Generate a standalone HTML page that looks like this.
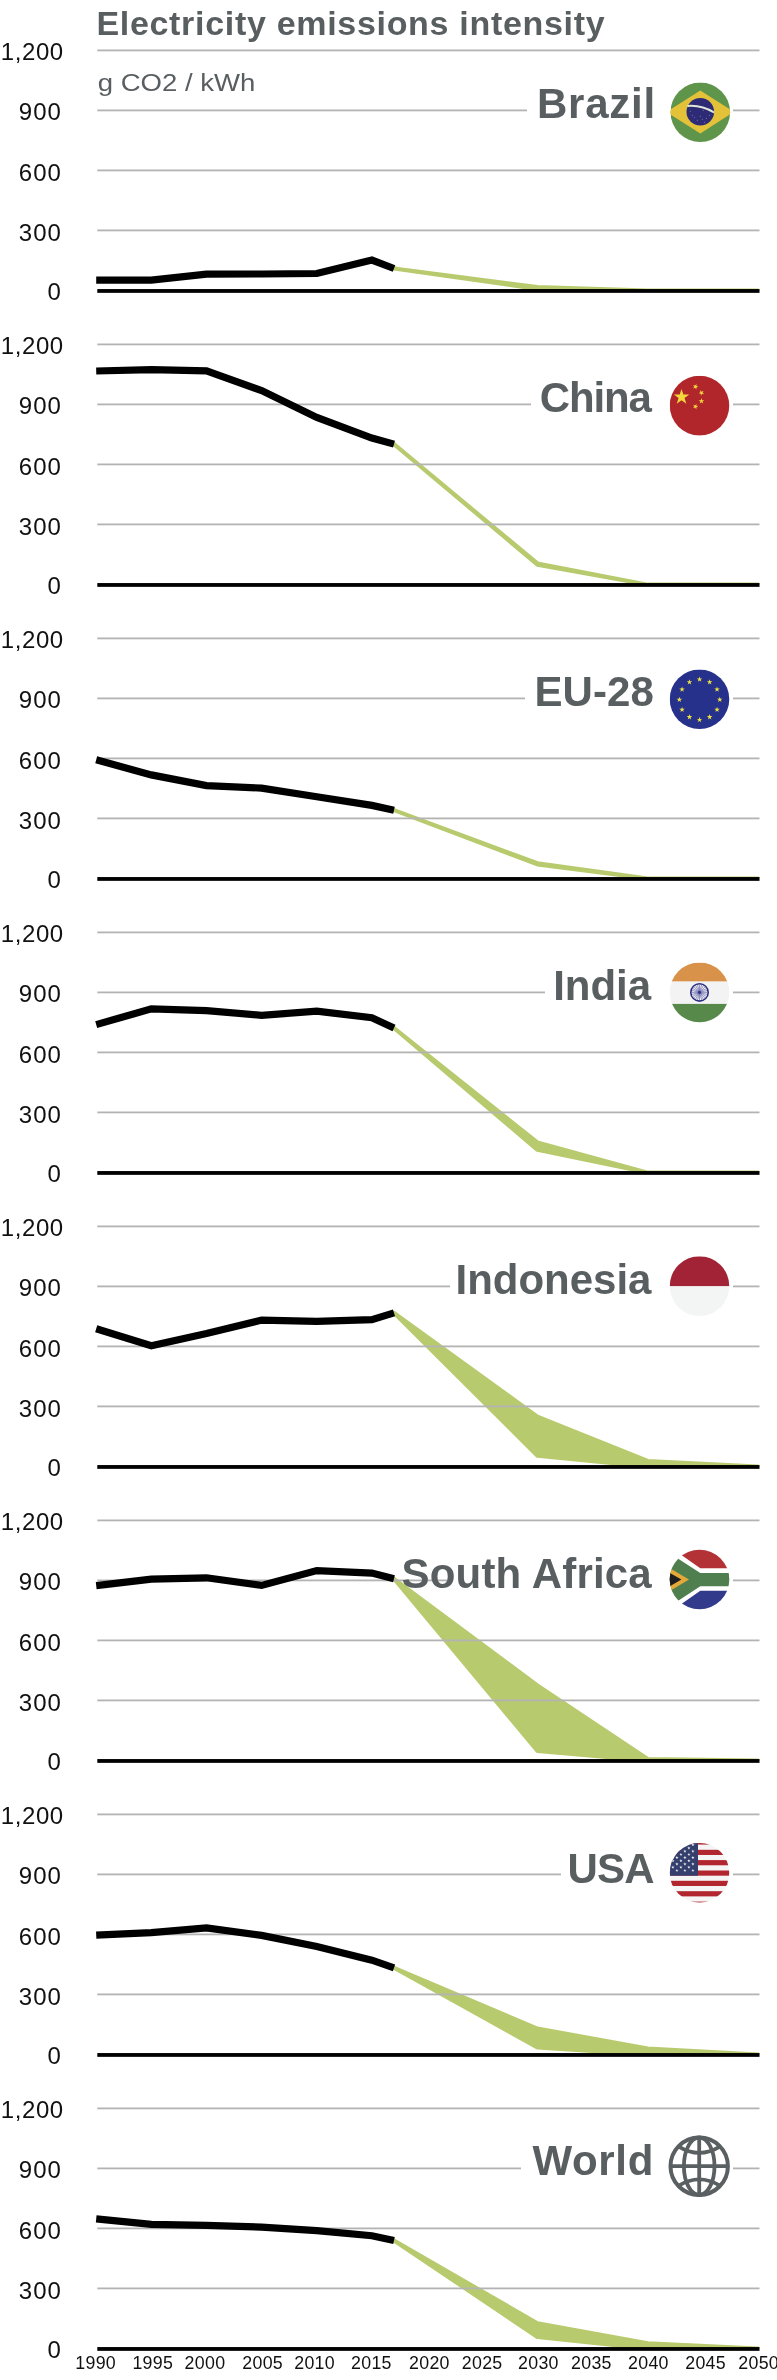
<!DOCTYPE html>
<html><head><meta charset="utf-8"><style>
html,body{margin:0;padding:0;background:#fff;}
svg{display:block;font-family:"Liberation Sans",sans-serif;will-change:transform;}
</style></head><body>
<svg width="777" height="2380" viewBox="0 0 777 2380">
<rect width="777" height="2380" fill="#fff"/>
<text x="96.4" y="34.5" font-size="34" font-weight="bold" fill="#595e61" letter-spacing="0.69">Electricity emissions intensity</text>
<text x="97.8" y="91.3" font-size="24.5" fill="#595e61" transform="translate(98.8,0) scale(1.125,1) translate(-98.8,0)">g CO2 / kWh</text>
<g transform="translate(0,0)">
<clipPath id="gc0"><rect x="0" y="0" width="759.5" height="291"/></clipPath>
<polygon clip-path="url(#gc0)" points="394,268.5 537.4,287 647.7,290.6 758,290.6 758,290.6 647.7,290.6 537.4,289" fill="#b8ca6e" stroke="#b8ca6e" stroke-width="4" stroke-linejoin="round"/>
<rect x="97.3" y="49.5" width="662.2" height="1.8" fill="#b3b3b3"/>
<rect x="97.3" y="109.5" width="429.7" height="1.8" fill="#b3b3b3"/>
<rect x="733" y="109.5" width="26.5" height="1.8" fill="#b3b3b3"/>
<rect x="97.3" y="169.5" width="662.2" height="1.8" fill="#b3b3b3"/>
<rect x="97.3" y="229.5" width="662.2" height="1.8" fill="#b3b3b3"/>
<polyline points="96.2,280.2 151.3,280.2 206.5,274.1 261.6,274 316.8,273.5 371.9,260.1 394,268.5" fill="none" stroke="#000" stroke-width="7.2" stroke-linejoin="miter" stroke-miterlimit="4"/>
<rect x="97.3" y="289.05" width="662.2" height="3.8" fill="#000"/>
<text x="0.8" y="59.8" font-size="24" fill="#111" letter-spacing="0.58">1,200</text>
<text x="18.8" y="120.1" font-size="24" fill="#111" letter-spacing="1.05">900</text>
<text x="18.8" y="180.6" font-size="24" fill="#111" letter-spacing="1.05">600</text>
<text x="18.8" y="240.8" font-size="24" fill="#111" letter-spacing="1.05">300</text>
<text x="47.6" y="300.3" font-size="24" fill="#111" letter-spacing="0">0</text>
<text x="537" y="117.8" font-size="42" font-weight="bold" fill="#595e61" letter-spacing="0.74">Brazil</text>
<clipPath id="c0"><circle cx="700.3" cy="112.2" r="29.8"/></clipPath><g clip-path="url(#c0)"><rect x="670.5" y="82.4" width="60" height="60" fill="#5f944b"/><polygon points="666.5,111.9 700.3,90.4 734.1,111.9 700.3,133.4" fill="#e3c23a"/><circle cx="700.3" cy="111.8" r="13.8" fill="#2e2b76"/><path d="M687.3 106 Q701.3 104.7 714.1 112.5" stroke="#dfe8d8" stroke-width="2" fill="none"/><circle cx="692.3" cy="115.2" r="0.5" fill="#8a88b8"/><circle cx="694.3" cy="117.2" r="0.5" fill="#8a88b8"/><circle cx="700.3" cy="116.2" r="0.5" fill="#8a88b8"/><circle cx="702.3" cy="119.2" r="0.5" fill="#8a88b8"/><circle cx="697.3" cy="120.2" r="0.5" fill="#8a88b8"/><circle cx="706.3" cy="118.2" r="0.5" fill="#8a88b8"/><circle cx="709.3" cy="115.2" r="0.5" fill="#8a88b8"/><circle cx="704.3" cy="122.2" r="0.5" fill="#8a88b8"/><circle cx="690.3" cy="111.2" r="0.5" fill="#8a88b8"/><circle cx="703.3" cy="110.2" r="0.5" fill="#8a88b8"/></g>
</g>
<g transform="translate(0,294)">
<clipPath id="gc1"><rect x="0" y="0" width="759.5" height="291"/></clipPath>
<polygon clip-path="url(#gc1)" points="394,150.1 537.4,269.4 647.7,290.6 758,290.6 758,290.6 647.7,290.6 537.4,270.8" fill="#b8ca6e" stroke="#b8ca6e" stroke-width="4" stroke-linejoin="round"/>
<rect x="97.3" y="49.5" width="662.2" height="1.8" fill="#b3b3b3"/>
<rect x="97.3" y="109.5" width="433.7" height="1.8" fill="#b3b3b3"/>
<rect x="733" y="109.5" width="26.5" height="1.8" fill="#b3b3b3"/>
<rect x="97.3" y="169.5" width="662.2" height="1.8" fill="#b3b3b3"/>
<rect x="97.3" y="229.5" width="662.2" height="1.8" fill="#b3b3b3"/>
<polyline points="96.2,77 151.3,75.7 206.5,76.8 261.6,96.6 316.8,123.4 371.9,144 394,150.1" fill="none" stroke="#000" stroke-width="7.2" stroke-linejoin="miter" stroke-miterlimit="4"/>
<rect x="97.3" y="289.05" width="662.2" height="3.8" fill="#000"/>
<text x="0.8" y="59.8" font-size="24" fill="#111" letter-spacing="0.58">1,200</text>
<text x="18.8" y="120.1" font-size="24" fill="#111" letter-spacing="1.05">900</text>
<text x="18.8" y="180.6" font-size="24" fill="#111" letter-spacing="1.05">600</text>
<text x="18.8" y="240.8" font-size="24" fill="#111" letter-spacing="1.05">300</text>
<text x="47.6" y="300.3" font-size="24" fill="#111" letter-spacing="0">0</text>
<text x="539.8" y="117.9" font-size="42" font-weight="bold" fill="#595e61" letter-spacing="-1.18">China</text>
<clipPath id="c1"><circle cx="699.5" cy="111.6" r="29.8"/></clipPath><g clip-path="url(#c1)"><rect x="669.8" y="81.8" width="60" height="60" fill="#b1262b"/><polygon points="681.5,94.9 683.4,100.6 689.3,100.6 684.5,104.1 686.4,109.7 681.5,106.2 676.7,109.7 678.6,104.1 673.8,100.6 679.7,100.6" fill="#f2d83a"/><polygon points="696.5,89.9 696.4,92.1 698.4,92.8 696.4,93.4 696.3,95.6 695.1,93.8 693,94.4 694.3,92.7 693.1,90.9 695.1,91.6" fill="#f2d83a"/><polygon points="703.6,96.7 702.6,98.6 704.1,100.2 702,99.8 701,101.8 700.6,99.6 698.5,99.3 700.4,98.3 700.1,96.1 701.6,97.7" fill="#f2d83a"/><polygon points="701.4,104.1 702.1,106.2 704.3,106.2 702.5,107.5 703.2,109.5 701.4,108.2 699.7,109.5 700.4,107.5 698.6,106.2 700.8,106.2" fill="#f2d83a"/><polygon points="696.5,109.7 696.4,111.9 698.4,112.6 696.4,113.2 696.3,115.4 695.1,113.6 693,114.2 694.3,112.5 693.1,110.7 695.1,111.4" fill="#f2d83a"/></g>
</g>
<g transform="translate(0,588)">
<clipPath id="gc2"><rect x="0" y="0" width="759.5" height="291"/></clipPath>
<polygon clip-path="url(#gc2)" points="394,222.2 537.4,275.2 647.7,290.6 758,290.6 758,290.6 647.7,290.6 537.4,276.4" fill="#b8ca6e" stroke="#b8ca6e" stroke-width="4" stroke-linejoin="round"/>
<rect x="97.3" y="49.5" width="662.2" height="1.8" fill="#b3b3b3"/>
<rect x="97.3" y="109.5" width="427.7" height="1.8" fill="#b3b3b3"/>
<rect x="733" y="109.5" width="26.5" height="1.8" fill="#b3b3b3"/>
<rect x="97.3" y="169.5" width="662.2" height="1.8" fill="#b3b3b3"/>
<rect x="97.3" y="229.5" width="662.2" height="1.8" fill="#b3b3b3"/>
<polyline points="96.2,171.8 151.3,186.9 206.5,197.6 261.6,200.1 316.8,208.8 371.9,217.4 394,222.2" fill="none" stroke="#000" stroke-width="7.2" stroke-linejoin="miter" stroke-miterlimit="4"/>
<rect x="97.3" y="289.05" width="662.2" height="3.8" fill="#000"/>
<text x="0.8" y="59.8" font-size="24" fill="#111" letter-spacing="0.58">1,200</text>
<text x="18.8" y="120.1" font-size="24" fill="#111" letter-spacing="1.05">900</text>
<text x="18.8" y="180.6" font-size="24" fill="#111" letter-spacing="1.05">600</text>
<text x="18.8" y="240.8" font-size="24" fill="#111" letter-spacing="1.05">300</text>
<text x="47.6" y="300.3" font-size="24" fill="#111" letter-spacing="0">0</text>
<text x="534.5" y="118.2" font-size="42" font-weight="bold" fill="#595e61" letter-spacing="0.08">EU-28</text>
<clipPath id="c2"><circle cx="699.5" cy="111.2" r="29.8"/></clipPath><g clip-path="url(#c2)"><rect x="669.8" y="81.4" width="60" height="60" fill="#26318c"/><polygon points="699.5,88.5 700.2,90.5 702.3,90.5 700.6,91.7 701.3,93.7 699.5,92.5 697.8,93.7 698.5,91.7 696.8,90.5 698.9,90.5" fill="#f1e343"/><polygon points="709.6,91.2 710.3,93.2 712.4,93.2 710.7,94.4 711.4,96.4 709.6,95.2 707.9,96.4 708.6,94.4 706.9,93.2 709,93.2" fill="#f1e343"/><polygon points="717,98.6 717.7,100.6 719.8,100.6 718.1,101.8 718.7,103.8 717,102.6 715.3,103.8 716,101.8 714.3,100.6 716.4,100.6" fill="#f1e343"/><polygon points="719.8,108.7 720.4,110.7 722.5,110.7 720.8,111.9 721.5,113.9 719.8,112.7 718,113.9 718.7,111.9 717,110.7 719.1,110.7" fill="#f1e343"/><polygon points="717,118.8 717.7,120.8 719.8,120.8 718.1,122 718.7,124 717,122.8 715.3,124 716,122 714.3,120.8 716.4,120.8" fill="#f1e343"/><polygon points="709.6,126.1 710.3,128.1 712.4,128.1 710.7,129.4 711.4,131.4 709.6,130.2 707.9,131.4 708.6,129.4 706.9,128.1 709,128.1" fill="#f1e343"/><polygon points="699.5,128.8 700.2,130.9 702.3,130.9 700.6,132.1 701.3,134.1 699.5,132.9 697.8,134.1 698.5,132.1 696.8,130.9 698.9,130.9" fill="#f1e343"/><polygon points="689.4,126.1 690.1,128.1 692.2,128.1 690.5,129.4 691.2,131.4 689.4,130.2 687.7,131.4 688.4,129.4 686.7,128.1 688.8,128.1" fill="#f1e343"/><polygon points="682.1,118.8 682.7,120.8 684.8,120.8 683.1,122 683.8,124 682.1,122.8 680.4,124 681,122 679.3,120.8 681.4,120.8" fill="#f1e343"/><polygon points="679.3,108.7 680,110.7 682.1,110.7 680.4,111.9 681.1,113.9 679.3,112.7 677.6,113.9 678.3,111.9 676.6,110.7 678.7,110.7" fill="#f1e343"/><polygon points="682.1,98.6 682.7,100.6 684.8,100.6 683.1,101.8 683.8,103.8 682.1,102.6 680.4,103.8 681,101.8 679.3,100.6 681.4,100.6" fill="#f1e343"/><polygon points="689.4,91.2 690.1,93.2 692.2,93.2 690.5,94.4 691.2,96.4 689.4,95.2 687.7,96.4 688.4,94.4 686.7,93.2 688.8,93.2" fill="#f1e343"/></g>
</g>
<g transform="translate(0,882)">
<clipPath id="gc3"><rect x="0" y="0" width="759.5" height="291"/></clipPath>
<polygon clip-path="url(#gc3)" points="394,146.1 537.4,260.4 647.7,290.6 758,290.6 758,290.6 647.7,290.6 537.4,267.9" fill="#b8ca6e" stroke="#b8ca6e" stroke-width="4" stroke-linejoin="round"/>
<rect x="97.3" y="49.5" width="662.2" height="1.8" fill="#b3b3b3"/>
<rect x="97.3" y="109.5" width="447.7" height="1.8" fill="#b3b3b3"/>
<rect x="733" y="109.5" width="26.5" height="1.8" fill="#b3b3b3"/>
<rect x="97.3" y="169.5" width="662.2" height="1.8" fill="#b3b3b3"/>
<rect x="97.3" y="229.5" width="662.2" height="1.8" fill="#b3b3b3"/>
<polyline points="96.2,142.6 151.3,126.9 206.5,128.6 261.6,133.3 316.8,129.2 371.9,135.8 394,146.1" fill="none" stroke="#000" stroke-width="7.2" stroke-linejoin="miter" stroke-miterlimit="4"/>
<rect x="97.3" y="289.05" width="662.2" height="3.8" fill="#000"/>
<text x="0.8" y="59.8" font-size="24" fill="#111" letter-spacing="0.58">1,200</text>
<text x="18.8" y="120.1" font-size="24" fill="#111" letter-spacing="1.05">900</text>
<text x="18.8" y="180.6" font-size="24" fill="#111" letter-spacing="1.05">600</text>
<text x="18.8" y="240.8" font-size="24" fill="#111" letter-spacing="1.05">300</text>
<text x="47.6" y="300.3" font-size="24" fill="#111" letter-spacing="0">0</text>
<text x="553.2" y="117.6" font-size="42" font-weight="bold" fill="#595e61" letter-spacing="-0.03">India</text>
<clipPath id="c3"><circle cx="699.5" cy="110.4" r="29.8"/></clipPath><g clip-path="url(#c3)"><rect x="669.8" y="80.6" width="60" height="19" fill="#d9924a"/><rect x="669.8" y="99.6" width="60" height="22.3" fill="#f4f3f4"/><rect x="669.8" y="121.9" width="60" height="20" fill="#56894a"/><circle cx="699.5" cy="110.4" r="8.7" fill="none" stroke="#2b2f80" stroke-width="1.6"/><line x1="699.5" y1="110.4" x2="707.3" y2="110.4" stroke="#5558a2" stroke-width="0.6"/><line x1="699.5" y1="110.4" x2="707.1" y2="112.4" stroke="#5558a2" stroke-width="0.6"/><line x1="699.5" y1="110.4" x2="706.3" y2="114.3" stroke="#5558a2" stroke-width="0.6"/><line x1="699.5" y1="110.4" x2="705.1" y2="115.9" stroke="#5558a2" stroke-width="0.6"/><line x1="699.5" y1="110.4" x2="703.4" y2="117.2" stroke="#5558a2" stroke-width="0.6"/><line x1="699.5" y1="110.4" x2="701.6" y2="117.9" stroke="#5558a2" stroke-width="0.6"/><line x1="699.5" y1="110.4" x2="699.5" y2="118.2" stroke="#5558a2" stroke-width="0.6"/><line x1="699.5" y1="110.4" x2="697.5" y2="117.9" stroke="#5558a2" stroke-width="0.6"/><line x1="699.5" y1="110.4" x2="695.6" y2="117.2" stroke="#5558a2" stroke-width="0.6"/><line x1="699.5" y1="110.4" x2="694" y2="115.9" stroke="#5558a2" stroke-width="0.6"/><line x1="699.5" y1="110.4" x2="692.8" y2="114.3" stroke="#5558a2" stroke-width="0.6"/><line x1="699.5" y1="110.4" x2="692" y2="112.4" stroke="#5558a2" stroke-width="0.6"/><line x1="699.5" y1="110.4" x2="691.8" y2="110.4" stroke="#5558a2" stroke-width="0.6"/><line x1="699.5" y1="110.4" x2="692" y2="108.4" stroke="#5558a2" stroke-width="0.6"/><line x1="699.5" y1="110.4" x2="692.8" y2="106.5" stroke="#5558a2" stroke-width="0.6"/><line x1="699.5" y1="110.4" x2="694" y2="104.9" stroke="#5558a2" stroke-width="0.6"/><line x1="699.5" y1="110.4" x2="695.6" y2="103.6" stroke="#5558a2" stroke-width="0.6"/><line x1="699.5" y1="110.4" x2="697.5" y2="102.9" stroke="#5558a2" stroke-width="0.6"/><line x1="699.5" y1="110.4" x2="699.5" y2="102.6" stroke="#5558a2" stroke-width="0.6"/><line x1="699.5" y1="110.4" x2="701.6" y2="102.9" stroke="#5558a2" stroke-width="0.6"/><line x1="699.5" y1="110.4" x2="703.4" y2="103.6" stroke="#5558a2" stroke-width="0.6"/><line x1="699.5" y1="110.4" x2="705.1" y2="104.9" stroke="#5558a2" stroke-width="0.6"/><line x1="699.5" y1="110.4" x2="706.3" y2="106.5" stroke="#5558a2" stroke-width="0.6"/><line x1="699.5" y1="110.4" x2="707.1" y2="108.4" stroke="#5558a2" stroke-width="0.6"/><circle cx="699.5" cy="110.4" r="1.3" fill="#2b2f80"/></g>
</g>
<g transform="translate(0,1176)">
<clipPath id="gc4"><rect x="0" y="0" width="759.5" height="291"/></clipPath>
<polygon clip-path="url(#gc4)" points="394,136.9 537.4,240.6 647.7,284.9 758,290.6 758,290.6 647.7,290.6 537.4,279.8" fill="#b8ca6e" stroke="#b8ca6e" stroke-width="4" stroke-linejoin="round"/>
<rect x="97.3" y="49.5" width="662.2" height="1.8" fill="#b3b3b3"/>
<rect x="97.3" y="109.5" width="352.7" height="1.8" fill="#b3b3b3"/>
<rect x="733" y="109.5" width="26.5" height="1.8" fill="#b3b3b3"/>
<rect x="97.3" y="169.5" width="662.2" height="1.8" fill="#b3b3b3"/>
<rect x="97.3" y="229.5" width="662.2" height="1.8" fill="#b3b3b3"/>
<polyline points="96.2,152.8 151.3,169.7 206.5,157.6 261.6,144.1 316.8,145.4 371.9,143.7 394,136.9" fill="none" stroke="#000" stroke-width="7.2" stroke-linejoin="miter" stroke-miterlimit="4"/>
<rect x="97.3" y="289.05" width="662.2" height="3.8" fill="#000"/>
<text x="0.8" y="59.8" font-size="24" fill="#111" letter-spacing="0.58">1,200</text>
<text x="18.8" y="120.1" font-size="24" fill="#111" letter-spacing="1.05">900</text>
<text x="18.8" y="180.6" font-size="24" fill="#111" letter-spacing="1.05">600</text>
<text x="18.8" y="240.8" font-size="24" fill="#111" letter-spacing="1.05">300</text>
<text x="47.6" y="300.3" font-size="24" fill="#111" letter-spacing="0">0</text>
<text x="455.5" y="117.5" font-size="42" font-weight="bold" fill="#595e61" letter-spacing="-0.01">Indonesia</text>
<clipPath id="c4"><circle cx="699.5" cy="110.1" r="29.8"/></clipPath><g clip-path="url(#c4)"><rect x="669.7" y="80.3" width="60" height="30" fill="#a12335"/><rect x="669.7" y="110.3" width="60" height="30" fill="#f3f4f4"/></g>
</g>
<g transform="translate(0,1470)">
<clipPath id="gc5"><rect x="0" y="0" width="759.5" height="291"/></clipPath>
<polygon clip-path="url(#gc5)" points="394,108.8 537.4,215.3 647.7,289 758,290.6 758,290.6 647.7,290.6 537.4,281" fill="#b8ca6e" stroke="#b8ca6e" stroke-width="4" stroke-linejoin="round"/>
<rect x="97.3" y="49.5" width="662.2" height="1.8" fill="#b3b3b3"/>
<rect x="97.3" y="109.5" width="352.7" height="1.8" fill="#b3b3b3"/>
<rect x="733" y="109.5" width="26.5" height="1.8" fill="#b3b3b3"/>
<rect x="97.3" y="169.5" width="662.2" height="1.8" fill="#b3b3b3"/>
<rect x="97.3" y="229.5" width="662.2" height="1.8" fill="#b3b3b3"/>
<polyline points="96.2,115.6 151.3,109.2 206.5,107.8 261.6,115.4 316.8,100.6 371.9,103.1 394,108.8" fill="none" stroke="#000" stroke-width="7.2" stroke-linejoin="miter" stroke-miterlimit="4"/>
<rect x="97.3" y="289.05" width="662.2" height="3.8" fill="#000"/>
<text x="0.8" y="59.8" font-size="24" fill="#111" letter-spacing="0.58">1,200</text>
<text x="18.8" y="120.1" font-size="24" fill="#111" letter-spacing="1.05">900</text>
<text x="18.8" y="180.6" font-size="24" fill="#111" letter-spacing="1.05">600</text>
<text x="18.8" y="240.8" font-size="24" fill="#111" letter-spacing="1.05">300</text>
<text x="47.6" y="300.3" font-size="24" fill="#111" letter-spacing="0">0</text>
<text x="401.6" y="118.1" font-size="42" font-weight="bold" fill="#595e61" letter-spacing="0.18">South Africa</text>
<clipPath id="c5"><circle cx="699.5" cy="109.5" r="29.8"/></clipPath><g clip-path="url(#c5)"><rect x="669.7" y="79.7" width="60" height="60" fill="#fff"/><polygon points="664.7,74.7 734.7,74.7 734.7,98.3 700.3,98.3 681.4,85.1 674.7,80.5" fill="#b23236"/><polygon points="664.7,144.7 734.7,144.7 734.7,120.8 700.3,120.8 681.4,133.9 674.7,138.7" fill="#323a8c"/><polygon points="664.7,83 678.2,88.7 700.3,103.1 734.7,103.1 734.7,116.3 700.3,116.3 678.2,130.7 664.7,136.4" fill="#4f7f4f"/><polygon points="664.7,95.2 689,109.6 664.7,124" fill="#e5a93a"/><polygon points="664.7,100 681.4,109.6 664.7,119.2" fill="#1e1e1e"/></g>
</g>
<g transform="translate(0,1764)">
<clipPath id="gc6"><rect x="0" y="0" width="759.5" height="291"/></clipPath>
<polygon clip-path="url(#gc6)" points="394,203.8 537.4,264.5 647.7,284.4 758,290.6 758,290.6 647.7,290.6 537.4,283.5" fill="#b8ca6e" stroke="#b8ca6e" stroke-width="4" stroke-linejoin="round"/>
<rect x="97.3" y="49.5" width="662.2" height="1.8" fill="#b3b3b3"/>
<rect x="97.3" y="109.5" width="463.7" height="1.8" fill="#b3b3b3"/>
<rect x="733" y="109.5" width="26.5" height="1.8" fill="#b3b3b3"/>
<rect x="97.3" y="169.5" width="662.2" height="1.8" fill="#b3b3b3"/>
<rect x="97.3" y="229.5" width="662.2" height="1.8" fill="#b3b3b3"/>
<polyline points="96.2,171.1 151.3,168.7 206.5,163.9 261.6,171.4 316.8,182.4 371.9,196.2 394,203.8" fill="none" stroke="#000" stroke-width="7.2" stroke-linejoin="miter" stroke-miterlimit="4"/>
<rect x="97.3" y="289.05" width="662.2" height="3.8" fill="#000"/>
<text x="0.8" y="59.8" font-size="24" fill="#111" letter-spacing="0.58">1,200</text>
<text x="18.8" y="120.1" font-size="24" fill="#111" letter-spacing="1.05">900</text>
<text x="18.8" y="180.6" font-size="24" fill="#111" letter-spacing="1.05">600</text>
<text x="18.8" y="240.8" font-size="24" fill="#111" letter-spacing="1.05">300</text>
<text x="47.6" y="300.3" font-size="24" fill="#111" letter-spacing="0">0</text>
<text x="567.6" y="118.5" font-size="42" font-weight="bold" fill="#595e61" letter-spacing="-0.9">USA</text>
<clipPath id="c6"><circle cx="699.5" cy="108.8" r="29.8"/></clipPath><g clip-path="url(#c6)"><rect x="669.7" y="79" width="60" height="60" fill="#f5f5f5"/><rect x="669.7" y="75.4" width="60" height="5.18" fill="#b1262f"/><rect x="669.7" y="85.8" width="60" height="5.18" fill="#b1262f"/><rect x="669.7" y="96.1" width="60" height="5.18" fill="#b1262f"/><rect x="669.7" y="106.5" width="60" height="5.18" fill="#b1262f"/><rect x="669.7" y="116.8" width="60" height="5.18" fill="#b1262f"/><rect x="669.7" y="127.2" width="60" height="5.18" fill="#b1262f"/><rect x="669.7" y="137.6" width="60" height="5.18" fill="#b1262f"/><rect x="669.7" y="75.4" width="28.3" height="36.3" fill="#343f6d"/><polygon points="692.9,79 693.3,80.3 694.6,80.3 693.5,81 693.9,82.2 692.9,81.5 691.9,82.2 692.3,81 691.2,80.3 692.5,80.3" fill="#f4f4f4"/><polygon points="684.9,79 685.3,80.3 686.6,80.3 685.5,81 685.9,82.2 684.9,81.5 683.9,82.2 684.3,81 683.2,80.3 684.5,80.3" fill="#f4f4f4"/><polygon points="676.9,79 677.3,80.3 678.6,80.3 677.5,81 677.9,82.2 676.9,81.5 675.9,82.2 676.3,81 675.2,80.3 676.5,80.3" fill="#f4f4f4"/><polygon points="668.9,79 669.3,80.3 670.6,80.3 669.5,81 669.9,82.2 668.9,81.5 667.9,82.2 668.3,81 667.2,80.3 668.5,80.3" fill="#f4f4f4"/><polygon points="688.9,82.2 689.3,83.5 690.6,83.5 689.5,84.2 689.9,85.4 688.9,84.7 687.9,85.4 688.3,84.2 687.2,83.5 688.5,83.5" fill="#f4f4f4"/><polygon points="680.9,82.2 681.3,83.5 682.6,83.5 681.5,84.2 681.9,85.4 680.9,84.7 679.9,85.4 680.3,84.2 679.2,83.5 680.5,83.5" fill="#f4f4f4"/><polygon points="672.9,82.2 673.3,83.5 674.6,83.5 673.5,84.2 673.9,85.4 672.9,84.7 671.9,85.4 672.3,84.2 671.2,83.5 672.5,83.5" fill="#f4f4f4"/><polygon points="692.9,85.5 693.3,86.7 694.6,86.7 693.5,87.4 693.9,88.6 692.9,87.9 691.9,88.6 692.3,87.4 691.2,86.7 692.5,86.7" fill="#f4f4f4"/><polygon points="684.9,85.5 685.3,86.7 686.6,86.7 685.5,87.4 685.9,88.6 684.9,87.9 683.9,88.6 684.3,87.4 683.2,86.7 684.5,86.7" fill="#f4f4f4"/><polygon points="676.9,85.5 677.3,86.7 678.6,86.7 677.5,87.4 677.9,88.6 676.9,87.9 675.9,88.6 676.3,87.4 675.2,86.7 676.5,86.7" fill="#f4f4f4"/><polygon points="668.9,85.5 669.3,86.7 670.6,86.7 669.5,87.4 669.9,88.6 668.9,87.9 667.9,88.6 668.3,87.4 667.2,86.7 668.5,86.7" fill="#f4f4f4"/><polygon points="688.9,88.7 689.3,89.9 690.6,89.9 689.5,90.6 689.9,91.8 688.9,91.1 687.9,91.8 688.3,90.6 687.2,89.9 688.5,89.9" fill="#f4f4f4"/><polygon points="680.9,88.7 681.3,89.9 682.6,89.9 681.5,90.6 681.9,91.8 680.9,91.1 679.9,91.8 680.3,90.6 679.2,89.9 680.5,89.9" fill="#f4f4f4"/><polygon points="672.9,88.7 673.3,89.9 674.6,89.9 673.5,90.6 673.9,91.8 672.9,91.1 671.9,91.8 672.3,90.6 671.2,89.9 672.5,89.9" fill="#f4f4f4"/><polygon points="692.9,91.8 693.3,93.1 694.6,93.1 693.5,93.8 693.9,95 692.9,94.3 691.9,95 692.3,93.8 691.2,93.1 692.5,93.1" fill="#f4f4f4"/><polygon points="684.9,91.8 685.3,93.1 686.6,93.1 685.5,93.8 685.9,95 684.9,94.3 683.9,95 684.3,93.8 683.2,93.1 684.5,93.1" fill="#f4f4f4"/><polygon points="676.9,91.8 677.3,93.1 678.6,93.1 677.5,93.8 677.9,95 676.9,94.3 675.9,95 676.3,93.8 675.2,93.1 676.5,93.1" fill="#f4f4f4"/><polygon points="668.9,91.8 669.3,93.1 670.6,93.1 669.5,93.8 669.9,95 668.9,94.3 667.9,95 668.3,93.8 667.2,93.1 668.5,93.1" fill="#f4f4f4"/><polygon points="688.9,95 689.3,96.3 690.6,96.3 689.5,97 689.9,98.2 688.9,97.5 687.9,98.2 688.3,97 687.2,96.3 688.5,96.3" fill="#f4f4f4"/><polygon points="680.9,95 681.3,96.3 682.6,96.3 681.5,97 681.9,98.2 680.9,97.5 679.9,98.2 680.3,97 679.2,96.3 680.5,96.3" fill="#f4f4f4"/><polygon points="672.9,95 673.3,96.3 674.6,96.3 673.5,97 673.9,98.2 672.9,97.5 671.9,98.2 672.3,97 671.2,96.3 672.5,96.3" fill="#f4f4f4"/><polygon points="692.9,98.2 693.3,99.5 694.6,99.5 693.5,100.2 693.9,101.4 692.9,100.7 691.9,101.4 692.3,100.2 691.2,99.5 692.5,99.5" fill="#f4f4f4"/><polygon points="684.9,98.2 685.3,99.5 686.6,99.5 685.5,100.2 685.9,101.4 684.9,100.7 683.9,101.4 684.3,100.2 683.2,99.5 684.5,99.5" fill="#f4f4f4"/><polygon points="676.9,98.2 677.3,99.5 678.6,99.5 677.5,100.2 677.9,101.4 676.9,100.7 675.9,101.4 676.3,100.2 675.2,99.5 676.5,99.5" fill="#f4f4f4"/><polygon points="668.9,98.2 669.3,99.5 670.6,99.5 669.5,100.2 669.9,101.4 668.9,100.7 667.9,101.4 668.3,100.2 667.2,99.5 668.5,99.5" fill="#f4f4f4"/><polygon points="688.9,101.5 689.3,102.7 690.6,102.7 689.5,103.4 689.9,104.6 688.9,103.9 687.9,104.6 688.3,103.4 687.2,102.7 688.5,102.7" fill="#f4f4f4"/><polygon points="680.9,101.5 681.3,102.7 682.6,102.7 681.5,103.4 681.9,104.6 680.9,103.9 679.9,104.6 680.3,103.4 679.2,102.7 680.5,102.7" fill="#f4f4f4"/><polygon points="672.9,101.5 673.3,102.7 674.6,102.7 673.5,103.4 673.9,104.6 672.9,103.9 671.9,104.6 672.3,103.4 671.2,102.7 672.5,102.7" fill="#f4f4f4"/><polygon points="692.9,104.7 693.3,105.9 694.6,105.9 693.5,106.6 693.9,107.8 692.9,107.1 691.9,107.8 692.3,106.6 691.2,105.9 692.5,105.9" fill="#f4f4f4"/><polygon points="684.9,104.7 685.3,105.9 686.6,105.9 685.5,106.6 685.9,107.8 684.9,107.1 683.9,107.8 684.3,106.6 683.2,105.9 684.5,105.9" fill="#f4f4f4"/><polygon points="676.9,104.7 677.3,105.9 678.6,105.9 677.5,106.6 677.9,107.8 676.9,107.1 675.9,107.8 676.3,106.6 675.2,105.9 676.5,105.9" fill="#f4f4f4"/><polygon points="668.9,104.7 669.3,105.9 670.6,105.9 669.5,106.6 669.9,107.8 668.9,107.1 667.9,107.8 668.3,106.6 667.2,105.9 668.5,105.9" fill="#f4f4f4"/></g>
</g>
<g transform="translate(0,2058)">
<clipPath id="gc7"><rect x="0" y="0" width="759.5" height="291"/></clipPath>
<polygon clip-path="url(#gc7)" points="394,182.5 537.4,265.2 647.7,285.2 758,290.6 758,290.6 647.7,290.6 537.4,279.1" fill="#b8ca6e" stroke="#b8ca6e" stroke-width="4" stroke-linejoin="round"/>
<rect x="97.3" y="49.5" width="662.2" height="1.8" fill="#b3b3b3"/>
<rect x="97.3" y="109.5" width="423.7" height="1.8" fill="#b3b3b3"/>
<rect x="733" y="109.5" width="26.5" height="1.8" fill="#b3b3b3"/>
<rect x="97.3" y="169.5" width="662.2" height="1.8" fill="#b3b3b3"/>
<rect x="97.3" y="229.5" width="662.2" height="1.8" fill="#b3b3b3"/>
<polyline points="96.2,160.9 151.3,166.3 206.5,167.3 261.6,169.1 316.8,172.6 371.9,177.7 394,182.5" fill="none" stroke="#000" stroke-width="7.2" stroke-linejoin="miter" stroke-miterlimit="4"/>
<rect x="97.3" y="289.05" width="662.2" height="3.8" fill="#000"/>
<text x="0.8" y="59.8" font-size="24" fill="#111" letter-spacing="0.58">1,200</text>
<text x="18.8" y="120.1" font-size="24" fill="#111" letter-spacing="1.05">900</text>
<text x="18.8" y="180.6" font-size="24" fill="#111" letter-spacing="1.05">600</text>
<text x="18.8" y="240.8" font-size="24" fill="#111" letter-spacing="1.05">300</text>
<text x="47.6" y="300.3" font-size="24" fill="#111" letter-spacing="0">0</text>
<text x="532.5" y="117.2" font-size="42" font-weight="bold" fill="#595e61" letter-spacing="0.66">World</text>
<circle cx="699.2" cy="108.2" r="28.7" fill="none" stroke="#5a5f62" stroke-width="4"/><ellipse cx="699.2" cy="108.2" rx="15.3" ry="28.7" fill="none" stroke="#5a5f62" stroke-width="3.8"/><line x1="699.2" y1="79.5" x2="699.2" y2="136.8" stroke="#5a5f62" stroke-width="3.8"/><line x1="670.5" y1="108.2" x2="728" y2="108.2" stroke="#5a5f62" stroke-width="3.8"/><path d="M678.8 88.7 Q699.2 101.2 719.8 88.7" fill="none" stroke="#5a5f62" stroke-width="3.8"/><path d="M678.8 127.7 Q699.2 115.2 719.8 127.7" fill="none" stroke="#5a5f62" stroke-width="3.8"/>
</g>
<text x="75.3" y="2368.8" font-size="17.8" fill="#111" letter-spacing="0.3">1990</text>
<text x="132.4" y="2368.8" font-size="17.8" fill="#111" letter-spacing="0.3">1995</text>
<text x="184.6" y="2368.8" font-size="17.8" fill="#111" letter-spacing="0.3">2000</text>
<text x="242.3" y="2368.8" font-size="17.8" fill="#111" letter-spacing="0.3">2005</text>
<text x="294.2" y="2368.8" font-size="17.8" fill="#111" letter-spacing="0.3">2010</text>
<text x="351" y="2368.8" font-size="17.8" fill="#111" letter-spacing="0.3">2015</text>
<text x="409" y="2368.8" font-size="17.8" fill="#111" letter-spacing="0.3">2020</text>
<text x="461.8" y="2368.8" font-size="17.8" fill="#111" letter-spacing="0.3">2025</text>
<text x="518" y="2368.8" font-size="17.8" fill="#111" letter-spacing="0.3">2030</text>
<text x="571" y="2368.8" font-size="17.8" fill="#111" letter-spacing="0.3">2035</text>
<text x="628" y="2368.8" font-size="17.8" fill="#111" letter-spacing="0.3">2040</text>
<text x="685.2" y="2368.8" font-size="17.8" fill="#111" letter-spacing="0.3">2045</text>
<text x="738.3" y="2368.8" font-size="17.8" fill="#111" letter-spacing="0.3">2050</text>
</svg></body></html>
